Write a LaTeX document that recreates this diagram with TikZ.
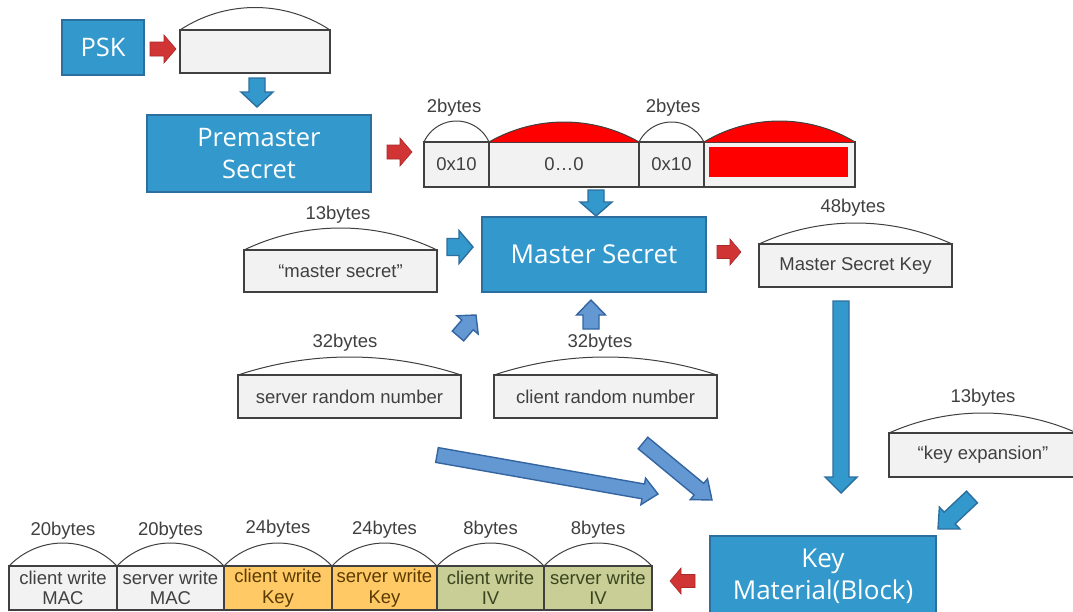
\documentclass[tikz,border=0pt]{standalone}
\usepackage{fontspec}
\setmainfont{Liberation Sans}
\newfontfamily\boxfont{Open Sans}
\usetikzlibrary{calc}

\definecolor{boxblue}{HTML}{3399CC}
\definecolor{boxedge}{HTML}{2C6E9E}
\definecolor{softblue}{HTML}{6498D2}
\definecolor{softedge}{HTML}{3465A0}
\definecolor{arrowred}{HTML}{D13434}
\definecolor{cellgray}{HTML}{F2F2F2}
\definecolor{cellorange}{HTML}{FFC966}
\definecolor{cellgreen}{HTML}{C8CE96}
\definecolor{inkgray}{HTML}{404040}
\definecolor{inkbrown}{HTML}{5A3B00}
\definecolor{inkolive}{HTML}{3A4520}
\definecolor{fillred}{HTML}{FF0000}

\tikzset{
  bluebox/.style={draw=boxedge, fill=boxblue, line width=1.6pt, text=white,
    font=\boxfont\fontsize{25.5}{32}\selectfont, align=center, inner sep=0pt},
  cellbox/.style={draw=inkgray, fill=cellgray, line width=1.2pt, text=inkgray,
    font=\fontsize{18.5}{20.5}\selectfont, align=center, inner sep=0pt, outer sep=0pt},
  sizelabel/.style={text=inkgray, font=\fontsize{18.5}{20}\selectfont, inner sep=0pt},
  domeline/.style={draw=inkgray, line width=1pt},
  reddome/.style={fill=fillred, draw=inkgray, line width=1pt},
  bluearrow/.style={fill=boxblue, draw=boxedge, line width=1.4pt},
  softarrow/.style={fill=softblue, draw=softedge, line width=1.4pt},
  redarrow/.style={fill=arrowred, draw=arrowred!80!black, line width=0.6pt},
}

% circular cap over the top edge of a field: node, width, rise, path options
\newcommand\domecap[4]{%
  \pgfmathsetmacro\domeangle{2*atan(2*#3/#2)}%
  \pgfmathsetmacro\domeradius{#2/(2*sin(\domeangle))}%
  \path[#4] (#1.north west) arc[start angle=90+\domeangle, end angle=90-\domeangle, radius=\domeradius pt];
}

% block arrow: style, tail, tip, half shaft, half head, head length
\newcommand\blockarrow[6]{%
  \coordinate (neck) at ($(#3)!#6!(#2)$);
  \draw[#1] ($(#2)!#4!90:(#3)$) -- ($(neck)!#4!90:(#3)$) -- ($(neck)!#5!90:(#3)$)
    -- (#3) -- ($(neck)!#5!-90:(#3)$) -- ($(neck)!#4!-90:(#3)$) -- ($(#2)!#4!-90:(#3)$) -- cycle;
}

\begin{document}
\begin{tikzpicture}[x=1pt,y=-1pt]
\useasboundingbox (0,0) rectangle (1073,611);
\clip (0,0) rectangle (1073,611);
\fill[white] (0,0) rectangle (1073,611);

% ---- PSK and its field
\node[bluebox, minimum width=82, minimum height=55] (psk) at (103,47.5) {PSK};
\node[cellbox, minimum width=150, minimum height=43] (pskcell) at (255,51.5) {};
\domecap{pskcell}{150}{22.5}{domeline}

% ---- premaster secret
\node[bluebox, minimum width=224, minimum height=77] (premaster) at (259,153.5) {Premaster\\Secret};

\node[cellbox, minimum width=65, minimum height=45] (pm1) at (456.5,164.5) {0x10};
\node[cellbox, minimum width=150, minimum height=45] (pm2) at (564,164.5) {0…0};
\node[cellbox, minimum width=65, minimum height=45] (pm3) at (671.5,164.5) {0x10};
\node[cellbox, minimum width=151, minimum height=45] (pm4) at (779.5,164.5) {};
\node[fill=fillred, minimum width=139, minimum height=30, inner sep=0pt] (pmkey) at (778.5,162) {};
\domecap{pm1}{65}{21}{domeline}
\domecap{pm2}{150}{20}{reddome}
\domecap{pm3}{65}{20}{domeline}
\domecap{pm4}{151}{21}{reddome}
\node[sizelabel] (pm1size) at (454,108) {2bytes};
\node[sizelabel] (pm3size) at (673,108) {2bytes};

% ---- master secret and its inputs
\node[bluebox, font=\boxfont\fontsize{26}{32}\selectfont, minimum width=224, minimum height=75] (master) at (594,254.5) {Master Secret};

\node[cellbox, minimum width=193, minimum height=42] (mslabel) at (340.5,271) {“master secret”};
\domecap{mslabel}{193}{22}{domeline}
\node[sizelabel] (mslabelsize) at (338,215) {13bytes};

\node[cellbox, minimum width=223, minimum height=43] (srand) at (349.5,396.5) {server random number};
\domecap{srand}{223}{18}{domeline}
\node[sizelabel] (srandsize) at (345,343) {32bytes};

\node[cellbox, minimum width=223, minimum height=43] (crand) at (605.5,396.5) {client random number};
\domecap{crand}{223}{18}{domeline}
\node[sizelabel] (crandsize) at (600,343) {32bytes};

\node[cellbox, minimum width=193, minimum height=43] (msk) at (855.5,265.5) {Master Secret Key};
\domecap{msk}{193}{21}{domeline}
\node[sizelabel] (msksize) at (853,208) {48bytes};

\node[cellbox, minimum width=188, minimum height=44] (keyexp) at (983,455) {“key expansion”};
\domecap{keyexp}{188}{20}{domeline}
\node[sizelabel] (keyexpsize) at (983,398) {13bytes};

% ---- key material block
\node[bluebox, font=\boxfont\fontsize{26}{32}\selectfont, minimum width=226, minimum height=80] (keymat) at (823,576) {Key\\Material(Block)};

% ---- key block fields
\node[cellbox, minimum width=108, minimum height=44] (b1) at (63,588) {client write\\MAC};
\node[cellbox, minimum width=107, minimum height=44] (b2) at (170.5,588) {server write\\MAC};
\node[cellbox, fill=cellorange, text=inkbrown, minimum width=108, minimum height=44] (b3) at (278,588) {client write\\Key};
\node[cellbox, fill=cellorange, text=inkbrown, minimum width=105, minimum height=44] (b4) at (384.5,588) {server write\\Key};
\node[cellbox, fill=cellgreen, text=inkolive, minimum width=107, minimum height=44] (b5) at (490.5,588) {client write\\IV};
\node[cellbox, fill=cellgreen, text=inkolive, minimum width=108, minimum height=44] (b6) at (598,588) {server write\\IV};
\domecap{b1}{108}{23}{domeline}
\domecap{b2}{107}{23}{domeline}
\domecap{b3}{108}{23}{domeline}
\domecap{b4}{105}{23}{domeline}
\domecap{b5}{107}{23}{domeline}
\domecap{b6}{108}{23}{domeline}
\node[sizelabel] (b1size) at (63,531) {20bytes};
\node[sizelabel] (b2size) at (170.5,531) {20bytes};
\node[sizelabel] (b3size) at (278,529) {24bytes};
\node[sizelabel] (b4size) at (384.5,530) {24bytes};
\node[sizelabel] (b5size) at (490.5,530) {8bytes};
\node[sizelabel] (b6size) at (598,530) {8bytes};

% ---- arrow end points
\coordinate (r1a) at (150,49);   \coordinate (r1b) at (176,49);
\coordinate (r2a) at (387,152);  \coordinate (r2b) at (412,152);
\coordinate (r3a) at (717,252);  \coordinate (r3b) at (741,252);
\coordinate (r4a) at (695,581);  \coordinate (r4b) at (670,581);
\coordinate (d1a) at (257,78);   \coordinate (d1b) at (257,107);
\coordinate (d2a) at (596,190);  \coordinate (d2b) at (596,216);
\coordinate (d3a) at (447,247);  \coordinate (d3b) at (473,247);
\coordinate (d4a) at (458,336);  \coordinate (d4b) at (476,315);
\coordinate (d5a) at (591,329);  \coordinate (d5b) at (591,300);
\coordinate (d6a) at (841,301);  \coordinate (d6b) at (841,493);
\coordinate (d7a) at (972,497);  \coordinate (d7b) at (938,529);
\coordinate (d8a) at (437,455);  \coordinate (d8b) at (658,494);
\coordinate (d9a) at (643,443);  \coordinate (d9b) at (712,500);

% ---- arrows
\blockarrow{redarrow}{r1a}{r1b}{7pt}{14pt}{12pt}
\blockarrow{redarrow}{r2a}{r2b}{7pt}{14pt}{12pt}
\blockarrow{redarrow}{r3a}{r3b}{6.5pt}{13pt}{11pt}
\blockarrow{redarrow}{r4a}{r4b}{6.5pt}{13pt}{11pt}
\blockarrow{bluearrow}{d1a}{d1b}{8pt}{16pt}{15pt}
\blockarrow{bluearrow}{d2a}{d2b}{8pt}{16pt}{14pt}
\blockarrow{bluearrow}{d3a}{d3b}{8.5pt}{16.5pt}{14pt}
\blockarrow{softarrow}{d4a}{d4b}{7.5pt}{14pt}{13pt}
\blockarrow{softarrow}{d5a}{d5b}{8pt}{14.5pt}{15pt}
\blockarrow{bluearrow}{d6a}{d6b}{8pt}{16pt}{16pt}
\blockarrow{bluearrow}{d7a}{d7b}{8pt}{15pt}{16pt}
\blockarrow{softarrow}{d8a}{d8b}{7.5pt}{13.5pt}{15pt}
\blockarrow{softarrow}{d9a}{d9b}{7.5pt}{13.5pt}{17pt}
\end{tikzpicture}
\end{document}
